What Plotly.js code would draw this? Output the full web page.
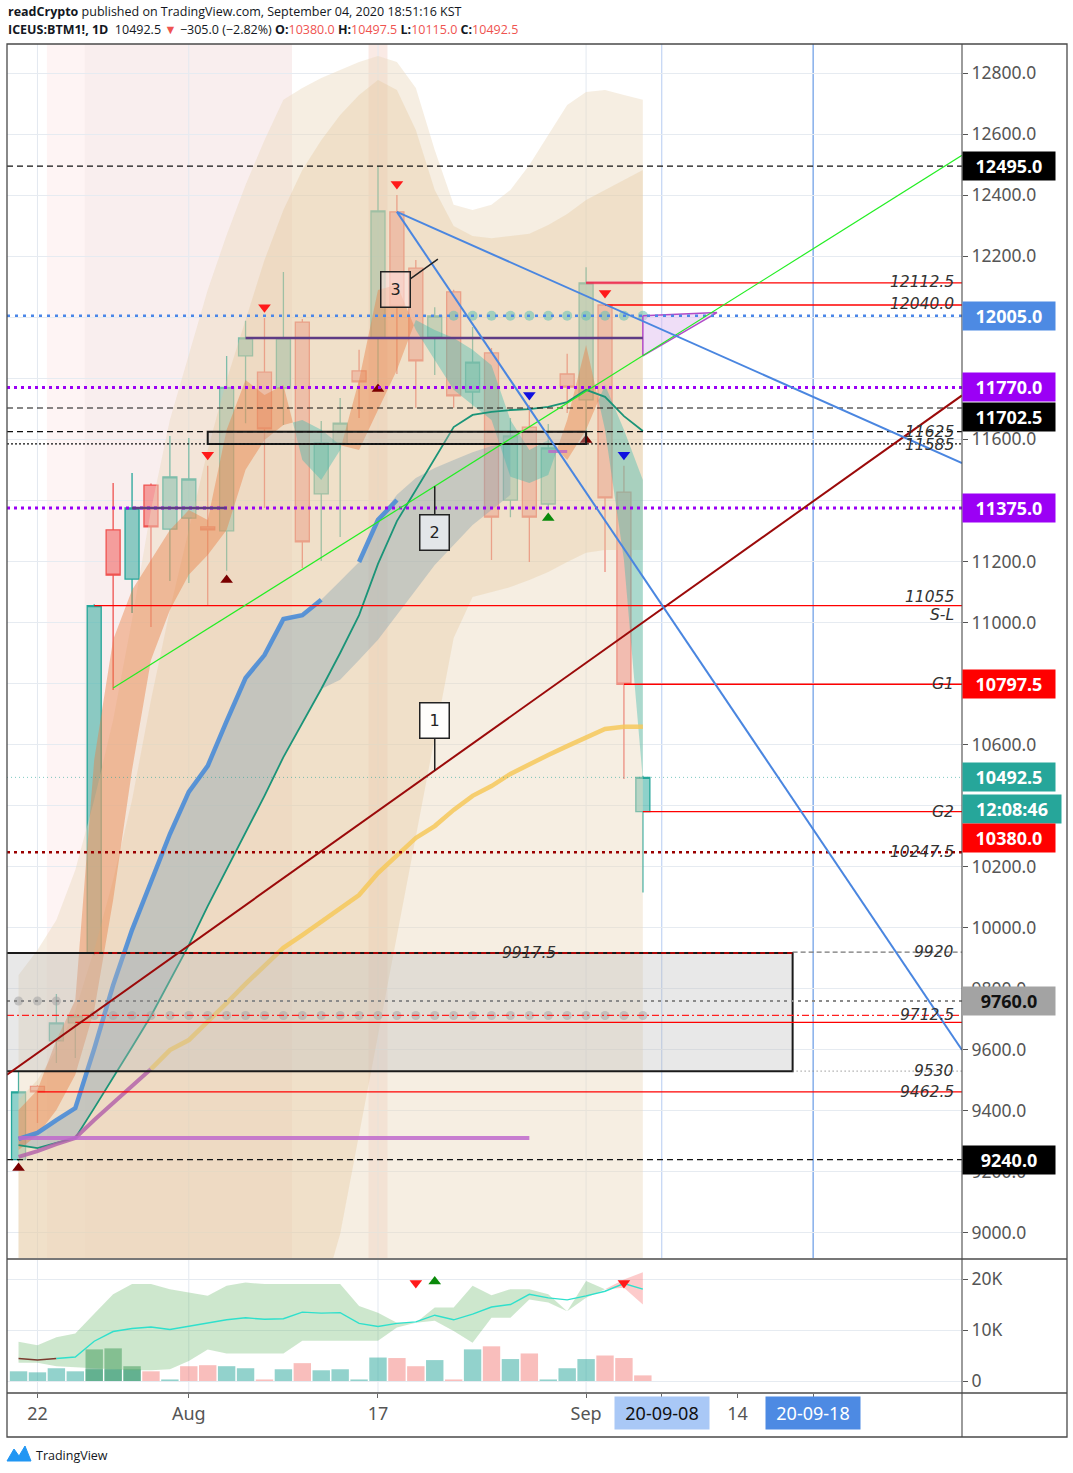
<!DOCTYPE html>
<html><head><meta charset="utf-8">
<script src="https://cdn.plot.ly/plotly-3.0.1.min.js"></script>
<style>html,body{margin:0;padding:0;background:#fff;}#chart{width:1073px;height:1473px;}</style>
</head><body><div id="chart"></div>
<script>
// ---------------- DATA ----------------
const dates = ['2020-07-21','2020-07-22','2020-07-23','2020-07-24','2020-07-27','2020-07-28','2020-07-29','2020-07-30','2020-07-31','2020-08-03','2020-08-04','2020-08-05','2020-08-06','2020-08-07','2020-08-10','2020-08-11','2020-08-12','2020-08-13','2020-08-14','2020-08-17','2020-08-18','2020-08-19','2020-08-20','2020-08-21','2020-08-24','2020-08-25','2020-08-26','2020-08-27','2020-08-28','2020-08-31','2020-09-01','2020-09-02','2020-09-03','2020-09-04'];
const futureDates = ['2020-09-08','2020-09-09','2020-09-10','2020-09-11','2020-09-14','2020-09-15','2020-09-16','2020-09-17','2020-09-18','2020-09-21','2020-09-22','2020-09-23','2020-09-24','2020-09-25','2020-09-28','2020-09-29','2020-09-30'];

const openP  = [9240,9480,9629,9688,9917.5,11303,11142,11450,11306,11342,11313,11300,11873,11820,11768,11984,11421,11588,11824,11932,12345,12161,11935,12083,11755,11883,11401,11640,11388,11814,11729,12040,11427,10380];
const highP  = [9530,9485,9783,9717,11060,11457,11490,11455,11611,11604,11513,11873,11988,11997,12148,11994,11660,11735,11893,12495,12400,12187,12033,12090,11968,11899,11670,11712,11650,11880,12164,12045,11513,10497.5];
const lowP   = [9235,9360,9557,9573,9910,10779,11031,10985,11136,11129,11057,11169,11653,11375,11647,11178,11201,11280,11670,11784,11814,11703,11811,11703,11703,11205,11345,11198,11368,11686,11608,11165,10487,10115];
const closeP = [9462.5,9462.5,9688,9711,11055,11155,11375,11313,11477,11470,11303,11770,11932,11634,11932,11264,11588,11653,11788,12348,12035,11857,12004,11742,11853,11345,11611,11345,11572,11771,12112.5,11408,10797.5,10492.5];

const volume   = [1900,1700,2500,1900,2300,2300,2300,1900,300,2900,3100,2900,2500,300,2300,3500,2100,2300,300,4600,4500,2900,4100,300,6200,6800,4300,5400,300,2500,4300,5000,4500,1100];
const volumeHi = [null,null,null,null,6200,6400,2900,null,null,null,null,null,null,null,null,null,null,null,null,null,null,null,null,null,null,null,null,null,null,null,null,null,null,null];

// envelope bands (price)
const bandAUpper = [9845,9927,10025,10189,10418,10680,11008,11368,11663,11876,12089,12269,12433,12580,12712,12751,12784,12810,12836,12856,12836,12751,12548,12368,12351,12368,12417,12499,12597,12695,12738,12744,12728,12712];
const bandBUpper = [9436,9501,9599,9730,9927,10156,10418,10746,11041,11303,11565,11794,11991,12187,12351,12482,12580,12662,12728,12777,12744,12613,12417,12299,12266,12259,12266,12273,12302,12338,12384,12417,12449,12482];
const bandBLower = [8780,8780,8780,8780,8780,8780,8780,8780,8780,8780,8780,8780,8780,8780,8780,8780,8780,8997,9324,9649,9976,10300,10625,10949,11083,11100,11116,11139,11165,11198,11228,11237,11237,11237];
// ribbon (fast / slow)
const ribbonFast = [9403,9468,9632,9763,10550,10943,11106,11205,11303,11368,11336,11631,11794,11745,11778,11532,11467,11565,11794,12089,12106,11958,11860,11762,11712,11663,11477,11457,11483,11663,11909,11631,11205,10484];
const ribbonSlow = [9272,9321,9403,9518,9730,10091,10517,10877,11041,11156,11221,11303,11500,11598,11647,11663,11631,11581,11565,11696,11827,11991,11958,11932,11893,11843,11663,11565,11598,11532,11631,11778,11631,11467];
// grey cloud
const cloudUpper = [9308,9328,9370,9409,9603,9812,9993,10153,10307,10445,10530,10677,10818,10893,11011,11024,11074,11136,11198,11336,11418,11473,11506,11532,11558,11578,11588];
const cloudLower = [9288,9278,9295,9311,9409,9508,9609,9711,9829,9943,10071,10192,10314,10432,10559,10671,10782,10812,10877,10943,11024,11106,11188,11254,11319,11368,11418];
// moving averages
const maBlue   = [9308,9328,9370,9409,9603,9812,9993,10153,10307,10445,10530,10677,10818,10893,11011,11024,11074,null,11198,11336,11401];
const maGreen  = [9288,9278,9295,9311,9409,9508,9609,9711,9829,9943,10071,10192,10314,10432,10559,10671,10782,10900,11024,11192,11332,11434,11536,11640,11680,11690,11696,11699,11706,11722,11762,11739,11676,11627];
const maSlow   = [9249,9268,9291,9311,9370,9426,9481,9537,9599,9632,9691,9753,9816,9875,9934,9976,10019,10065,10107,10179,10235,10294,10333,10386,10432,10464,10504,10536,10566,10595,10625,10651,10658,10658];

// signal markers
const sellDates = ['2020-08-04','2020-08-07','2020-08-18','2020-09-02'];
const sellPrices = [11549,12033,12436,12079];
const buyDarkDates = ['2020-07-21','2020-08-05','2020-08-17','2020-09-01'];
const buyDarkPrices = [9213,11139,11765,11598];
const blueDownDates = ['2020-08-27','2020-09-03'];
const blueDownPrices = [11745,11549];
const greenUpDates = ['2020-08-28'];
const greenUpPrices = [11342];

// horizontal levels
const blackDashLevels = [12495,11702.5,11625,9240];
const purpleDotLevels = [11770,11375];
const blueDotLevels = [12005];
const redLevels = [12112.5,12040,11055,10797.5,10380,9690,9462.5];
const redLevelStarts = ['2020-09-01','2020-09-02','2020-07-27','2020-09-03','2020-09-04','2020-07-24','2020-07-22'];
const maroonDotLevels = [10247.5];
const lastPriceLevel = [10492.5];
const greyDotLevels = [9760];
const redDashDotLevels = [9712.5];
const purpleSolid = [11932, '2020-08-06', '2020-09-04'];
const purpleShort = [11375, '2020-07-29', '2020-08-05'];
const pinkShort = [11560, '2020-08-28', '2020-08-31'];
const magentaFlat = [9311, '2020-07-21', '2020-08-27'];
// zones
const zoneBox = [9530, 9917.5, '2020-09-16 22:00'];
const rangeBox = [11585, 11625, '2020-08-04', '2020-09-01'];
const zoneDots9760 = [0,1,2];
const zoneDots9712 = [4,33];
const tealDots12005 = [23,33];
// trend line anchors
const limeLine = [['2020-07-28',10785],['2020-09-04',11874]];
const maroonLine = [['2020-07-21',9545],['2020-09-04',11000]];
const blueLine1 = [['2020-08-18',12345],['2020-09-04',11150]];
const blueLine2 = [['2020-08-18',12345],['2020-09-04',11987]];
const triDates = ['2020-09-04','2020-09-10 22:00','2020-09-04'];
const triPrices = [12005,12015,11873];

// volume-pane indicator
const volCloudUpper = [7700,7000,8600,9300,13200,17000,19000,19000,18000,17300,16700,18700,19300,19000,19000,19000,19000,19000,14700,13400,11400,11400,14400,14400,18700,16800,18000,18000,17000,13700,19600,18000];
const volCloudLower = [3600,3600,2900,2700,2600,2300,2100,2100,2300,3900,6200,5400,5400,5400,5400,7900,7900,7900,7900,7900,10500,11400,11800,9800,7500,12400,12400,16000,15400,13700,16300,18000];
const volPinkUpper = [18000,19900,21300];
const volPinkLower = [18000,18300,15000];
const volLine = [4400,4100,4400,4700,7800,9700,10300,10600,10100,10700,11400,12000,12400,12100,12200,13500,13300,13400,11300,10700,11300,11600,12900,12000,13100,14500,15000,17000,16300,15900,16700,17600,19100,18000];
const volSignalDates = ['2020-08-19','2020-08-20','2020-09-03'];
const volSignalValues = [19200,19500,19200];

// axis labels
const tickDates = ['2020-07-22','2020-08-03','2020-08-17','2020-09-01','2020-09-14'];
const tickText = ['22','Aug','17','Sep','14'];
const markDates = ['2020-09-08','2020-09-18'];
const markText = ['20-09-08','20-09-18'];
const priceTicks = [9000,9200,9400,9600,9800,10000,10200,10400,10600,10800,11000,11200,11400,11600,11800,12000,12200,12400,12600,12800];
const hiddenPriceTicks = [10400,10800,11400,11800,12000];

// ---------------- HELPERS ----------------
const cal = dates.concat(futureDates);
function idx(s){ const p=s.split(' '); let i=cal.indexOf(p[0]); let f=0; if(p[1]){const hm=p[1].split(':').map(Number); f=(hm[0]+(hm[1]||0)/60)/24;} return i+f; }
const X = dates.map((d)=>idx(d));
const xMin = idx('2020-07-21') - 0.61, xMax = idx('2020-09-29') + 0.87;
const PX = px => (px-7)/955, PY = py => (1393-py)/1349;
function lineAt(anch, x){ const x0=idx(anch[0][0]), x1=idx(anch[1][0]); const y0=anch[0][1], y1=anch[1][1]; return y0+(y1-y0)*(x-x0)/(x1-x0); }

const TEAL='#26a69a', RED='#ef5350';
const traces=[];
traces.push({x:X, y:bandAUpper, type:'scatter', mode:'lines', line:{width:0}, fill:'tozeroy', fillcolor:'rgba(236,218,190,0.45)', hoverinfo:'skip'});
traces.push({x:X.concat(X.slice().reverse()), y:bandBUpper.concat(bandBLower.slice().reverse()), type:'scatter', mode:'lines', line:{width:0}, fill:'toself', fillcolor:'rgba(228,196,152,0.33)', hoverinfo:'skip'});
const cX = X.slice(0, cloudUpper.length);
traces.push({x:cX.concat(cX.slice().reverse()), y:cloudUpper.concat(cloudLower.slice().reverse()), type:'scatter', mode:'lines', line:{width:0}, fill:'toself', fillcolor:'rgba(130,160,180,0.38)', hoverinfo:'skip'});
(function(){
  const ox=[],oy=[],tx=[],ty=[];
  function add(up, xs, ys){ const ax=up?ox:tx, ay=up?oy:ty; if(ax.length){ax.push(null);ay.push(null);} xs.forEach((v,k)=>{ax.push(v);ay.push(ys[k]);}); }
  for(let i=0;i<X.length-1;i++){
    const a0=ribbonFast[i],a1=ribbonFast[i+1],b0=ribbonSlow[i],b1=ribbonSlow[i+1];
    const d0=a0-b0, d1=a1-b1;
    if(d0*d1<0){ const t=d0/(d0-d1); const xm=X[i]+t*(X[i+1]-X[i]); const ym=a0+t*(a1-a0);
      add(d0>0,[X[i],xm,X[i]],[a0,ym,b0]); add(d1>0,[xm,X[i+1],X[i+1]],[ym,a1,b1]);
    } else add(d0+d1>=0,[X[i],X[i+1],X[i+1],X[i]],[a0,a1,b1,b0]);
  }
  traces.push({x:ox,y:oy,type:'scatter',mode:'lines',line:{width:0},fill:'toself',fillcolor:'rgba(232,128,70,0.45)',hoverinfo:'skip'});
  traces.push({x:tx,y:ty,type:'scatter',mode:'lines',line:{width:0},fill:'toself',fillcolor:'rgba(60,185,175,0.40)',hoverinfo:'skip'});
})();
traces.push({x:X.slice(0,maBlue.length), y:maBlue, type:'scatter', mode:'lines', connectgaps:false, line:{color:'rgba(74,140,215,0.9)', width:4.5}, hoverinfo:'skip'});
traces.push({x:X, y:maGreen, type:'scatter', mode:'lines', line:{color:'#1b9478', width:1.8}, hoverinfo:'skip'});
traces.push({x:X.slice(0,8), y:maSlow.slice(0,8), type:'scatter', mode:'lines', line:{color:'rgba(180,100,170,0.85)', width:4}, hoverinfo:'skip'});
traces.push({x:X.slice(7), y:maSlow.slice(7), type:'scatter', mode:'lines', line:{color:'rgba(246,200,90,0.85)', width:4.5}, hoverinfo:'skip'});
traces.push({x:[idx(magentaFlat[1]), idx(magentaFlat[2])], y:[magentaFlat[0],magentaFlat[0]], type:'scatter', mode:'lines', line:{color:'rgba(190,105,205,0.85)', width:4}, hoverinfo:'skip'});
traces.push({type:'candlestick', x:X, open:openP, high:highP, low:lowP, close:closeP,
  increasing:{line:{color:TEAL,width:1.3}, fillcolor:'rgba(38,166,154,0.52)'},
  decreasing:{line:{color:RED,width:1.3}, fillcolor:'rgba(239,83,80,0.52)'}, whiskerwidth:0, hoverinfo:'skip'});
function rangeIdx(r){ const a=[]; for(let i=r[0];i<=r[1];i++) a.push(i); return a; }
const td = rangeIdx(tealDots12005);
traces.push({x:td.map(i=>X[i]), y:td.map(()=>blueDotLevels[0]), type:'scatter', mode:'markers', marker:{size:10, color:'rgba(110,195,180,0.6)'}, hoverinfo:'skip'});
const gd1 = zoneDots9760;
traces.push({x:gd1.map(i=>X[i]), y:gd1.map(()=>greyDotLevels[0]), type:'scatter', mode:'markers', marker:{size:9, color:'rgba(150,150,150,0.55)'}, hoverinfo:'skip'});
const gd2 = rangeIdx(zoneDots9712);
traces.push({x:gd2.map(i=>X[i]), y:gd2.map(()=>redDashDotLevels[0]), type:'scatter', mode:'markers', marker:{size:9, color:'rgba(150,150,150,0.5)'}, hoverinfo:'skip'});
traces.push({x:sellDates.map(idx), y:sellPrices, type:'scatter', mode:'markers', marker:{symbol:'triangle-down', size:11, color:'#ff1a1a'}, hoverinfo:'skip'});
traces.push({x:buyDarkDates.map(idx), y:buyDarkPrices, type:'scatter', mode:'markers', marker:{symbol:'triangle-up', size:11, color:'#7a0000'}, hoverinfo:'skip'});
traces.push({x:blueDownDates.map(idx), y:blueDownPrices, type:'scatter', mode:'markers', marker:{symbol:'triangle-down', size:11, color:'#1010e0'}, hoverinfo:'skip'});
traces.push({x:greenUpDates.map(idx), y:greenUpPrices, type:'scatter', mode:'markers', marker:{symbol:'triangle-up', size:11, color:'#0a8a0a'}, hoverinfo:'skip'});
traces.push({x:triDates.map(idx).concat([idx(triDates[0])]), y:triPrices.concat([triPrices[0]]), type:'scatter', mode:'lines', fill:'toself', fillcolor:'rgba(225,195,240,0.55)', line:{color:'#b24cc8', width:1.5}, hoverinfo:'skip'});

// volume pane
const volColors = closeP.map((c,i)=> i===0 || c>=closeP[i-1] ? 'rgba(38,166,154,0.5)' : 'rgba(239,83,80,0.38)');
const vcX = X.slice(0, volCloudUpper.length);
traces.push({x:vcX.concat(vcX.slice().reverse()), y:volCloudUpper.concat(volCloudLower.slice().reverse()), xaxis:'x2', yaxis:'y2', type:'scatter', mode:'lines', line:{width:0}, fill:'toself', fillcolor:'rgba(100,180,100,0.32)', hoverinfo:'skip'});
const vpX = X.slice(X.length-3);
traces.push({x:vpX.concat(vpX.slice().reverse()), y:volPinkUpper.concat(volPinkLower.slice().reverse()), xaxis:'x2', yaxis:'y2', type:'scatter', mode:'lines', line:{width:0}, fill:'toself', fillcolor:'rgba(250,140,140,0.45)', hoverinfo:'skip'});
traces.push({x:X, y:volume, xaxis:'x2', yaxis:'y2', type:'bar', width:0.92, marker:{color:volColors, line:{width:0}}, hoverinfo:'skip'});
traces.push({x:X, y:volumeHi, xaxis:'x2', yaxis:'y2', type:'bar', width:0.92, marker:{color:'rgba(60,150,95,0.55)', line:{width:0}}, hoverinfo:'skip'});
traces.push({x:X.slice(0,3), y:volLine.slice(0,3), xaxis:'x2', yaxis:'y2', type:'scatter', mode:'lines', line:{color:'#7a3b2e', width:1.5}, hoverinfo:'skip'});
traces.push({x:X.slice(2), y:volLine.slice(2), xaxis:'x2', yaxis:'y2', type:'scatter', mode:'lines', line:{color:'#2fe0cc', width:1.4}, hoverinfo:'skip'});
traces.push({x:volSignalDates.map(idx), y:volSignalValues, xaxis:'x2', yaxis:'y2', type:'scatter', mode:'markers', marker:{symbol:['triangle-down','triangle-up','triangle-down'], size:11, color:['#ff1a1a','#0a8a0a','#ff1a1a']}, hoverinfo:'skip'});

// ---------------- SHAPES ----------------
const shapes=[];
function hl(y, x0, x1, color, width, dash, layer){ shapes.push({type:'line', xref:'x', yref:'y', x0:x0, x1:x1, y0:y, y1:y, line:{color:color, width:width, dash:dash||'solid'}, layer:layer||'above'}); }
shapes.push({type:'rect', xref:'x', yref:'paper', x0:idx('2020-07-22 12:00'), x1:idx('2020-08-10 11:00'), y0:PY(1258), y1:1, fillcolor:'rgba(250,205,205,0.22)', line:{width:0}, layer:'below'});
shapes.push({type:'rect', xref:'x', yref:'paper', x0:idx('2020-07-24 12:00'), x1:idx('2020-08-10 11:00'), y0:PY(1258), y1:1, fillcolor:'rgba(150,140,140,0.05)', line:{width:0}, layer:'below'});
shapes.push({type:'rect', xref:'x', yref:'paper', x0:idx('2020-08-14 12:00'), x1:idx('2020-08-17 12:00'), y0:PY(1258), y1:1, fillcolor:'rgba(235,170,150,0.25)', line:{width:0}, layer:'below'});
tickDates.slice(0,4).forEach(d=>{
  shapes.push({type:'line', xref:'x', yref:'paper', x0:idx(d), x1:idx(d), y0:PY(1258), y1:1, line:{color:'#e3e9f0', width:1}, layer:'below'});
  shapes.push({type:'line', xref:'x2', yref:'paper', x0:idx(d), x1:idx(d), y0:0, y1:PY(1260), line:{color:'#e3e9f0', width:1}, layer:'below'});
});
shapes.push({type:'line', xref:'x', yref:'paper', x0:idx(markDates[0]), x1:idx(markDates[0]), y0:PY(1258), y1:1, line:{color:'rgba(120,160,230,0.55)', width:1}, layer:'below'});
shapes.push({type:'line', xref:'x', yref:'paper', x0:idx(markDates[1]), x1:idx(markDates[1]), y0:PY(1258), y1:1, line:{color:'#4a86e0', width:1}, layer:'below'});

shapes.push({type:'rect', xref:'x', yref:'y', x0:xMin-1, x1:idx(zoneBox[2]), y0:zoneBox[0], y1:zoneBox[1], fillcolor:'rgba(190,190,190,0.35)', line:{color:'#1a1a1a', width:2}, layer:'above'});
shapes.push({type:'rect', xref:'x', yref:'y', x0:idx(rangeBox[2]), x1:idx(rangeBox[3]), y0:rangeBox[0], y1:rangeBox[1], fillcolor:'rgba(190,180,175,0.35)', line:{color:'#1a1a1a', width:2}, layer:'above'});
blackDashLevels.forEach(p=>hl(p, xMin, xMax, '#111', 1.2, '6px,4px'));
hl(rangeBox[0], xMin, xMax, '#111', 1.2, '2px,2px');
purpleDotLevels.forEach(p=>hl(p, xMin, xMax, '#9b00f5', 3, '3px,4px'));
blueDotLevels.forEach(p=>hl(p, xMin, xMax, '#4a86e8', 2.5, '3px,5px'));
redLevels.forEach((p,i)=>hl(p, idx(redLevelStarts[i]), xMax, '#ff0000', 1.3));
hl(redLevels[0], idx(redLevelStarts[0]), X[X.length-1], 'rgba(230,60,110,0.6)', 3);
maroonDotLevels.forEach(p=>hl(p, xMin, xMax, '#9a0000', 2.5, '3px,4px'));
lastPriceLevel.forEach(p=>hl(p, xMin, xMax, 'rgba(38,166,154,0.6)', 1, '1px,3px'));
greyDotLevels.forEach(p=>hl(p, xMin, xMax, '#8a8a8a', 2.2, '3px,4px'));
redDashDotLevels.forEach(p=>hl(p, xMin, xMax, '#ff2020', 1.2, '7px,3px,2px,3px'));
hl(zoneBox[1], idx('2020-07-27'), idx(zoneBox[2]), '#e00000', 1.5, '5px,4px');
hl(9920, idx(zoneBox[2]), xMax, '#777', 1.2, '5px,3px');
hl(zoneBox[0], idx(zoneBox[2]), xMax, '#888', 1.2, '1px,3px');
hl(purpleSolid[0], idx(purpleSolid[1]), idx(purpleSolid[2]), '#5e3c85', 2.5);
hl(purpleShort[0], idx(purpleShort[1]), idx(purpleShort[2]), '#5e3c85', 2.5);
hl(pinkShort[0], idx(pinkShort[1]), idx(pinkShort[2]), 'rgba(190,100,200,0.8)', 3);
function tline(anch, xa, xb, color, width){ shapes.push({type:'line', xref:'x', yref:'y', x0:xa, x1:xb, y0:lineAt(anch,xa), y1:lineAt(anch,xb), line:{color:color,width:width}, layer:'above'}); }
tline(limeLine, idx(limeLine[0][0]), xMax, '#22ee22', 1.2);
tline(maroonLine, xMin, xMax, '#9b0a0a', 2);
tline(blueLine1, idx(blueLine1[0][0]), xMax, '#4a86e0', 2);
tline(blueLine2, idx(blueLine2[0][0]), xMax, '#4a86e0', 2);

shapes.push({type:'rect', xref:'paper', yref:'paper', x0:0, x1:PX(1067), y0:PY(1437), y1:1, line:{color:'#4a4a4a', width:1.3}, fillcolor:'rgba(0,0,0,0)'});
shapes.push({type:'line', xref:'paper', yref:'paper', x0:0, x1:PX(1067), y0:0, y1:0, line:{color:'#4a4a4a', width:1.3}});
shapes.push({type:'line', xref:'paper', yref:'paper', x0:0, x1:PX(1067), y0:PY(1259), y1:PY(1259), line:{color:'#4a4a4a', width:1.3}});
shapes.push({type:'line', xref:'paper', yref:'paper', x0:1, x1:1, y0:PY(1437), y1:1, line:{color:'#4a4a4a', width:1.1}});
shapes.push({type:'path', xref:'paper', yref:'paper', path:`M ${PX(7)} ${PY(1461)} L ${PX(14)} ${PY(1449)} L ${PX(19)} ${PY(1456)} L ${PX(25)} ${PY(1446)} L ${PX(31)} ${PY(1461)} Z`, fillcolor:'#2196f3', line:{color:'#2196f3', width:1}});

// ---------------- ANNOTATIONS ----------------
const ann=[];
function plabel(price, text, bg, fg, yshift, w){ ann.push({xref:'paper', yref:'y', x:1, xanchor:'left', y:price, yanchor:'middle', yshift:yshift||0, text:'<b>'+text+'</b>', showarrow:false, bgcolor:bg, font:{color:fg, size:18, family:'Noto Sans, sans-serif'}, width:w||90, height:26, borderpad:1, align:'center'}); }
plabel(blackDashLevels[0], blackDashLevels[0].toFixed(1), '#000', '#fff');
plabel(blueDotLevels[0], blueDotLevels[0].toFixed(1), '#4d8ae3', '#fff');
plabel(purpleDotLevels[0], purpleDotLevels[0].toFixed(1), '#9b00f5', '#fff');
plabel(blackDashLevels[1], blackDashLevels[1].toFixed(1), '#000', '#fff', -9);
plabel(purpleDotLevels[1], purpleDotLevels[1].toFixed(1), '#9b00f5', '#fff');
plabel(redLevels[3], redLevels[3].toFixed(1), '#ff0000', '#fff');
plabel(lastPriceLevel[0], lastPriceLevel[0].toFixed(1), '#26a69a', '#fff');
plabel(lastPriceLevel[0], '12:08:46', '#26a69a', '#fff', -32, 96);
plabel(redLevels[4], redLevels[4].toFixed(1), '#ff0000', '#fff', -26);
plabel(greyDotLevels[0], greyDotLevels[0].toFixed(1), '#a3a3a3', '#111');
plabel(blackDashLevels[3], blackDashLevels[3].toFixed(1), '#000', '#fff');

function itext(price, text, yshift, xpx){ ann.push({xref:'paper', yref:'y', x:PX(xpx||956), xanchor:'right', y:price, yanchor:'middle', yshift:yshift||0, text:'<i>'+text+'</i>', showarrow:false, font:{color:'#333', size:15.5, family:'DejaVu Sans, sans-serif'}}); }
itext(redLevels[0], '12112.5', 1);
itext(redLevels[1], '12040.0', 1);
itext(rangeBox[1], '11625', 0);
itext(rangeBox[0], '11585', -1);
itext(redLevels[2], '11055', 9);
itext(redLevels[2], 'S-L', -9);
itext(redLevels[3], 'G1', 0);
itext(redLevels[4], 'G2', 0);
itext(maroonDotLevels[0], '10247.5', 0);
itext(9920, '9920', 0);
itext(redDashDotLevels[0], '9712.5', 0);
itext(zoneBox[0], '9530', 0);
itext(redLevels[6], '9462.5', 0);
ann.push({xref:'x', yref:'y', x:idx('2020-08-27'), y:zoneBox[1], yanchor:'middle', text:'<i>9917.5</i>', showarrow:false, font:{color:'#333', size:15.5, family:'DejaVu Sans, sans-serif'}});

function callout(t, x, y, ax, ay, bg){ ann.push({xref:'x', yref:'y', x:x, y:y, ax:ax, ay:ay, text:t, showarrow:true, arrowhead:0, arrowwidth:1.5, arrowcolor:'#222', bordercolor:'#222', borderwidth:1.5, borderpad:4, bgcolor:bg, width:20, height:26, font:{size:16, color:'#222', family:'DejaVu Sans, sans-serif'}}); }
callout('1', idx('2020-08-20'), lineAt(maroonLine, idx('2020-08-20')), 0, -50, 'rgba(255,255,255,0.92)');
callout('2', idx('2020-08-20'), lineAt(limeLine, idx('2020-08-20')), 0, 46, '#e3e6e9');
callout('3', idx('2020-08-20 04:00'), 12190, -42, 30, 'rgba(255,225,225,0.55)');

ann.push({xref:'x2', yref:'paper', x:idx(markDates[0]), y:PY(1413), yanchor:'middle', text:markText[0], showarrow:false, bgcolor:'#a9c8f6', font:{color:'#111', size:18, family:'Noto Sans, sans-serif'}, width:92, height:30, borderpad:1});
ann.push({xref:'x2', yref:'paper', x:idx(markDates[1]), y:PY(1413), yanchor:'middle', text:markText[1], showarrow:false, bgcolor:'#4d8ae3', font:{color:'#fff', size:18, family:'Noto Sans, sans-serif'}, width:92, height:30, borderpad:1});

ann.push({xref:'paper', yref:'paper', x:PX(6), y:PY(12), xanchor:'left', yanchor:'middle', showarrow:false, text:'<b>readCrypto</b> published on TradingView.com, September 04, 2020 18:51:16 KST', font:{size:12.5, color:'#131722', family:'Open Sans, sans-serif'}});
ann.push({xref:'paper', yref:'paper', x:PX(6), y:PY(29), xanchor:'left', yanchor:'middle', showarrow:false, text:'<b>ICEUS:BTM1!, 1D</b>  10492.5 <span style="color:#ef5350">▼</span> −305.0 (−2.82%) <b>O:</b><span style="color:#ef5350">10380.0</span> <b>H:</b><span style="color:#ef5350">10497.5</span> <b>L:</b><span style="color:#ef5350">10115.0</span> <b>C:</b><span style="color:#ef5350">10492.5</span>', font:{size:12.5, color:'#131722', family:'Open Sans, sans-serif'}});
ann.push({xref:'paper', yref:'paper', x:PX(34), y:PY(1455), xanchor:'left', yanchor:'middle', showarrow:false, text:'TradingView', font:{size:12.5, color:'#131722', family:'Open Sans, sans-serif'}});

const layout = {
  width:1073, height:1473, margin:{l:7, r:111, t:44, b:80},
  paper_bgcolor:'#fff', plot_bgcolor:'#fff', showlegend:false, dragmode:false,
  font:{family:'Noto Sans, sans-serif', color:'#555'},
  boxgap:0.26, boxgroupgap:0,
  xaxis:{domain:[0,1], anchor:'y', range:[xMin,xMax], showticklabels:false, showgrid:false, zeroline:false, ticks:'', rangeslider:{visible:false}, fixedrange:true},
  xaxis2:{domain:[0,1], anchor:'y2', range:[xMin,xMax], tickmode:'array', tickvals:tickDates.concat(markDates).map(idx), ticktext:tickText.concat(['','']), tickfont:{size:18, color:'#555'}, ticks:'outside', ticklen:4, tickcolor:'#666', showgrid:false, zeroline:false, fixedrange:true},
  yaxis:{domain:[PY(1258),1], anchor:'x', side:'right', range:[8918,12895], tickmode:'array', tickvals:priceTicks, ticktext:priceTicks.map(v=>hiddenPriceTicks.includes(v)?'':v.toFixed(1)), ticks:'outside', ticklen:5, tickcolor:'#555', tickfont:{size:17.5, color:'#555'}, gridcolor:'#e6ebf1', zeroline:false, showline:false, fixedrange:true},
  yaxis2:{domain:[0,PY(1260)], anchor:'x2', side:'right', range:[-2353,23725], tickmode:'array', tickvals:[0,10000,20000], ticktext:['0','10K','20K'], ticks:'outside', ticklen:5, tickcolor:'#555', tickfont:{size:17.5, color:'#555'}, gridcolor:'#e6ebf1', zeroline:false, showline:false, fixedrange:true},
  barmode:'overlay', bargap:0.08,
  shapes:shapes, annotations:ann
};
Plotly.newPlot('chart', traces, layout, {staticPlot:true, displayModeBar:false});
</script></body></html>
